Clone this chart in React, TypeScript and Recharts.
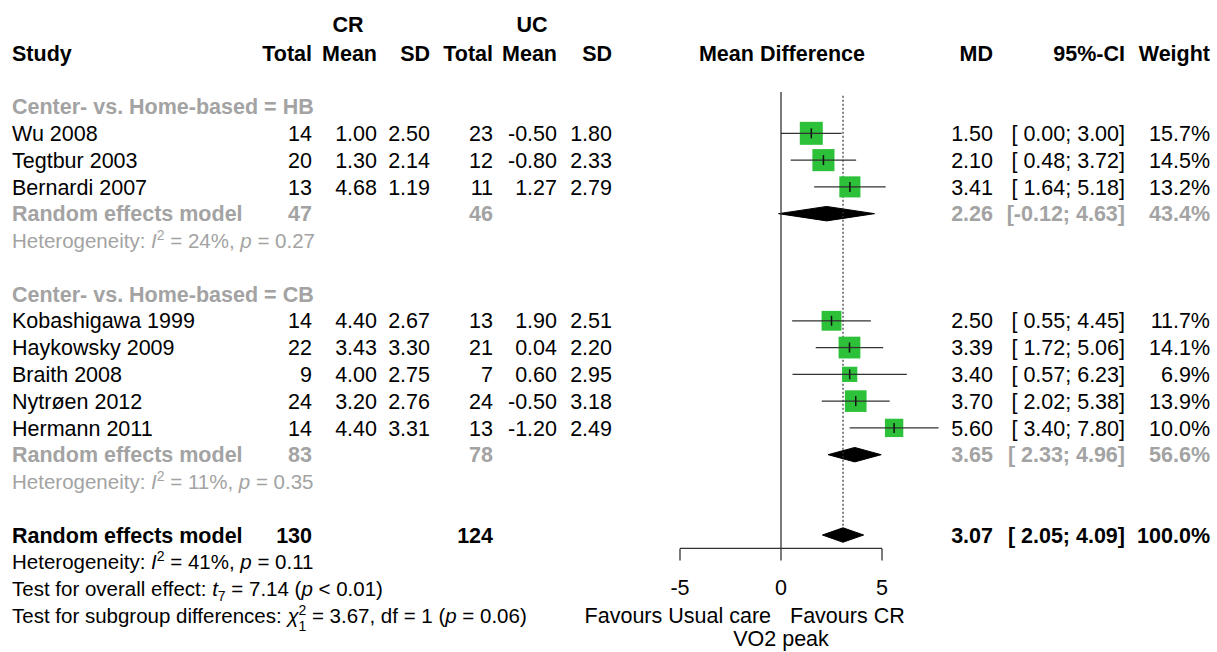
import React from "react";
import { ComposedChart, XAxis, YAxis, Scatter, Area, ReferenceLine } from "recharts";

// study level data (VO2 peak, CR vs usual care)
const studies = ["Wu 2008", "Tegtbur 2003", "Bernardi 2007", "Kobashigawa 1999", "Haykowsky 2009", "Braith 2008", "Nytrøen 2012", "Hermann 2011"];
const subgroup = ["HB", "HB", "HB", "CB", "CB", "CB", "CB", "CB"];
const crTotal = [14, 20, 13, 14, 22, 9, 24, 14];
const crMean = [1.0, 1.3, 4.68, 4.4, 3.43, 4.0, 3.2, 4.4];
const crSD = [2.5, 2.14, 1.19, 2.67, 3.3, 2.75, 2.76, 3.31];
const ucTotal = [23, 12, 11, 13, 21, 7, 24, 13];
const ucMean = [-0.5, -0.8, 1.27, 1.9, 0.04, 0.6, -0.5, -1.2];
const ucSD = [1.8, 2.33, 2.79, 2.51, 2.2, 2.95, 3.18, 2.49];
const md = [1.5, 2.1, 3.41, 2.5, 3.39, 3.4, 3.7, 5.6];
const ciLow = [0.0, 0.48, 1.64, 0.55, 1.72, 0.57, 2.02, 3.4];
const ciHigh = [3.0, 3.72, 5.18, 4.45, 5.06, 6.23, 5.38, 7.8];
const weight = [15.7, 14.5, 13.2, 11.7, 14.1, 6.9, 13.9, 10.0];

// subgroup summaries
const groups = ["HB", "CB"];
const groupCrTotal = [47, 83];
const groupUcTotal = [46, 78];
const groupMd = [2.26, 3.65];
const groupLow = [-0.12, 2.33];
const groupHigh = [4.63, 4.96];
const groupWeight = [43.4, 56.6];
const groupI2 = ["24%", "11%"];
const groupP = ["0.27", "0.35"];

// overall
const overallCrTotal = 130;
const overallUcTotal = 124;
const overallMd = 3.07;
const overallLow = 2.05;
const overallHigh = 4.09;

const axisTicks = [-5, 0, 5];

const FONT = '"Liberation Sans", Arial, Helvetica, sans-serif';
const W = 1217;
const H = 652;
const TOP = 53;
const ROW = 26.78;
const FS = 21.5;
const FS_SMALL = 20.5;
const GREY = "#A3A3A3";
const GREEN = "#2DC13A";
const LINE = "#333";
const DIAMOND_H = 0.27; // half height in rows

const COL = { study: 12, crTotal: 312, crMean: 377, crSD: 430, ucTotal: 493, ucMean: 557, ucSD: 612, md: 993, ci: 1125, w: 1210 };

const f2 = (v: number) => v.toFixed(2);
const fmtCI = (lo: number, hi: number) => `[${lo < 0 ? "" : " "}${f2(lo)}; ${f2(hi)}]`;
const fmtW = (w: number) => w.toFixed(1) + "%";

// row layout
type Layout = { header: number; studyRows: number[]; summary: number; het: number };
const layout: Layout[] = [];
let rr = 2;
groups.forEach((g) => {
  const header = rr++;
  const studyRows: number[] = [];
  subgroup.forEach((s) => {
    if (s === g) studyRows.push(rr++);
  });
  const summary = rr++;
  const het = rr++;
  rr++;
  layout.push({ header, studyRows, summary, het });
});
const overallRow = rr;
const AXIS_ROW = overallRow + 0.5;

const rowOf = (i: number) => {
  const gi = groups.indexOf(subgroup[i]);
  const k = studies.filter((_, j) => subgroup[j] === subgroup[i]).indexOf(studies[i]);
  return layout[gi].studyRows[k];
};

const studyPoints = studies.map((s, i) => ({ x: md[i], y: rowOf(i), w: weight[i] }));
const diamonds = [
  ...groups.map((g, gi) => ({ lo: groupLow[gi], mid: groupMd[gi], hi: groupHigh[gi], r: layout[gi].summary })),
  { lo: overallLow, mid: overallMd, hi: overallHigh, r: overallRow },
];

const Square = (props: any) => {
  const { cx, cy, payload } = props;
  const s = 5.8 * Math.sqrt(payload.w);
  return (
    <g>
      <rect x={cx - s / 2} y={cy - s / 2} width={s} height={s} fill={GREEN} />
      <line x1={cx - s / 2} x2={cx + s / 2} y1={cy} y2={cy} stroke={LINE} strokeWidth={1.3} />
      <line x1={cx} x2={cx} y1={cy - 5} y2={cy + 5} stroke="#111" strokeWidth={1.5} />
    </g>
  );
};

const yPix = (r: number) => TOP + r * ROW;
const base = (r: number, fs: number) => yPix(r) + fs * 0.355;

function T({ x, r, y, children, anchor = "start", bold = false, fill = "#000", fs = FS }: any) {
  const yy = y !== undefined ? y + fs * 0.355 : base(r, fs);
  return (
    <text x={x} y={yy} textAnchor={anchor} fontWeight={bold ? "bold" : "normal"} fill={fill} fontSize={fs} fontFamily={FONT} xmlSpace="preserve" style={{ whiteSpace: "pre" }}>
      {children}
    </text>
  );
}

function Het({ r, i2, p, fill }: any) {
  return (
    <T x={COL.study} r={r} fs={FS_SMALL} fill={fill}>
      {"Heterogeneity: "}
      <tspan fontStyle="italic">I</tspan>
      <tspan dy={-8} fontSize={14}>2</tspan>
      <tspan dy={8}>{` = ${i2}, `}</tspan>
      <tspan fontStyle="italic">p</tspan>
      {` = ${p}`}
    </T>
  );
}

function TableText() {
  return (
    <svg width={W} height={H} style={{ position: "absolute", left: 0, top: 0, pointerEvents: "none" }}>
      <T x={348} y={24} anchor="middle" bold>CR</T>
      <T x={532} y={24} anchor="middle" bold>UC</T>
      <T x={COL.study} r={0} bold>Study</T>
      <T x={COL.crTotal} r={0} anchor="end" bold>Total</T>
      <T x={COL.crMean} r={0} anchor="end" bold>Mean</T>
      <T x={COL.crSD} r={0} anchor="end" bold>SD</T>
      <T x={COL.ucTotal} r={0} anchor="end" bold>Total</T>
      <T x={COL.ucMean} r={0} anchor="end" bold>Mean</T>
      <T x={COL.ucSD} r={0} anchor="end" bold>SD</T>
      <T x={782} r={0} anchor="middle" bold>Mean Difference</T>
      <T x={COL.md} r={0} anchor="end" bold>MD</T>
      <T x={COL.ci} r={0} anchor="end" bold>95%-CI</T>
      <T x={COL.w} r={0} anchor="end" bold>Weight</T>

      {groups.map((g, gi) => {
        const L = layout[gi];
        return (
          <g key={g}>
            <T x={COL.study} r={L.header} bold fill={GREY}>{`Center- vs. Home-based = ${g}`}</T>
            {studies.map((s, i) => {
              if (subgroup[i] !== g) return null;
              const r = rowOf(i);
              return (
                <g key={s}>
                  <T x={COL.study} r={r}>{s}</T>
                  <T x={COL.crTotal} r={r} anchor="end">{crTotal[i]}</T>
                  <T x={COL.crMean} r={r} anchor="end">{f2(crMean[i])}</T>
                  <T x={COL.crSD} r={r} anchor="end">{f2(crSD[i])}</T>
                  <T x={COL.ucTotal} r={r} anchor="end">{ucTotal[i]}</T>
                  <T x={COL.ucMean} r={r} anchor="end">{f2(ucMean[i])}</T>
                  <T x={COL.ucSD} r={r} anchor="end">{f2(ucSD[i])}</T>
                  <T x={COL.md} r={r} anchor="end">{f2(md[i])}</T>
                  <T x={COL.ci} r={r} anchor="end">{fmtCI(ciLow[i], ciHigh[i])}</T>
                  <T x={COL.w} r={r} anchor="end">{fmtW(weight[i])}</T>
                </g>
              );
            })}
            <T x={COL.study} r={L.summary} bold fill={GREY}>Random effects model</T>
            <T x={COL.crTotal} r={L.summary} anchor="end" bold fill={GREY}>{groupCrTotal[gi]}</T>
            <T x={COL.ucTotal} r={L.summary} anchor="end" bold fill={GREY}>{groupUcTotal[gi]}</T>
            <T x={COL.md} r={L.summary} anchor="end" bold fill={GREY}>{f2(groupMd[gi])}</T>
            <T x={COL.ci} r={L.summary} anchor="end" bold fill={GREY}>{fmtCI(groupLow[gi], groupHigh[gi])}</T>
            <T x={COL.w} r={L.summary} anchor="end" bold fill={GREY}>{fmtW(groupWeight[gi])}</T>
            <Het r={L.het} i2={groupI2[gi]} p={groupP[gi]} fill={GREY} />
          </g>
        );
      })}

      <T x={COL.study} r={overallRow} bold>Random effects model</T>
      <T x={COL.crTotal} r={overallRow} anchor="end" bold>{overallCrTotal}</T>
      <T x={COL.ucTotal} r={overallRow} anchor="end" bold>{overallUcTotal}</T>
      <T x={COL.md} r={overallRow} anchor="end" bold>{f2(overallMd)}</T>
      <T x={COL.ci} r={overallRow} anchor="end" bold>{fmtCI(overallLow, overallHigh)}</T>
      <T x={COL.w} r={overallRow} anchor="end" bold>100.0%</T>
      <Het r={overallRow + 1} i2="41%" p="0.11" fill="#000" />
      <T x={COL.study} r={overallRow + 2} fs={FS_SMALL}>
        {"Test for overall effect: "}
        <tspan fontStyle="italic">t</tspan>
        <tspan dy={5} fontSize={14}>7</tspan>
        <tspan dy={-5}>{" = 7.14 ("}</tspan>
        <tspan fontStyle="italic">p</tspan>
        {" < 0.01)"}
      </T>
      <T x={COL.study} r={overallRow + 3} fs={FS_SMALL}>
        {"Test for subgroup differences: "}
        <tspan fontStyle="italic">χ</tspan>
        <tspan dy={-8} fontSize={14}>2</tspan>
        <tspan dx={-8} dy={16} fontSize={14}>1</tspan>
        <tspan dy={-8}>{" = 3.67, df = 1 ("}</tspan>
        <tspan fontStyle="italic">p</tspan>
        {" = 0.06)"}
      </T>
      <T x={771} r={overallRow + 3} anchor="end">Favours Usual care</T>
      <T x={790} r={overallRow + 3}>Favours CR</T>
      <T x={781} y={638} anchor="middle">VO2 peak</T>
    </svg>
  );
}

export default function App() {
  return (
    <div style={{ position: "absolute", left: 0, top: 0, width: W, height: H, background: "#fff" }}>
      <ComposedChart width={W} height={H} margin={{ top: TOP, right: 274.4, bottom: 43.6, left: 659.8 }}>
        <XAxis
          type="number"
          dataKey="x"
          domain={[-6, 8]}
          ticks={axisTicks}
          interval={0}
          axisLine={false}
          tickSize={12}
          tickMargin={19}
          height={60}
          tickLine={{ stroke: LINE, strokeWidth: 1.3 }}
          tick={{ fontSize: FS, fill: "#000", fontFamily: FONT }}
        />
        <YAxis type="number" dataKey="y" domain={[0, AXIS_ROW]} reversed hide />

        <ReferenceLine segment={[{ x: 0, y: 1.46 }, { x: 0, y: AXIS_ROW }]} stroke={LINE} strokeWidth={1.3} />
        <ReferenceLine segment={[{ x: overallMd, y: 1.6 }, { x: overallMd, y: overallRow - 0.3 }]} stroke={LINE} strokeWidth={1.2} strokeDasharray="2 2" />
        <ReferenceLine segment={[{ x: -5, y: AXIS_ROW }, { x: 5, y: AXIS_ROW }]} stroke={LINE} strokeWidth={1.3} />

        <Scatter data={studyPoints} shape={<Square />} isAnimationActive={false} />

        {studyPoints.map((p, i) => (
          <ReferenceLine
            key={"ci" + i}
            segment={[{ x: ciLow[i], y: p.y }, { x: ciHigh[i], y: p.y }]}
            stroke={LINE}
            strokeWidth={1.3}
          />
        ))}

        {diamonds.map((d, i) => (
          <Area
            key={"dm" + i}
            data={[
              { x: d.lo, y: [d.r, d.r] },
              { x: d.mid, y: [d.r - DIAMOND_H, d.r + DIAMOND_H] },
              { x: d.hi, y: [d.r, d.r] },
            ]}
            dataKey="y"
            type="linear"
            fill="#000"
            fillOpacity={1}
            stroke="#000"
            strokeWidth={1}
            dot={false}
            activeDot={false}
            isAnimationActive={false}
          />
        ))}
      </ComposedChart>
      <TableText />
    </div>
  );
}
